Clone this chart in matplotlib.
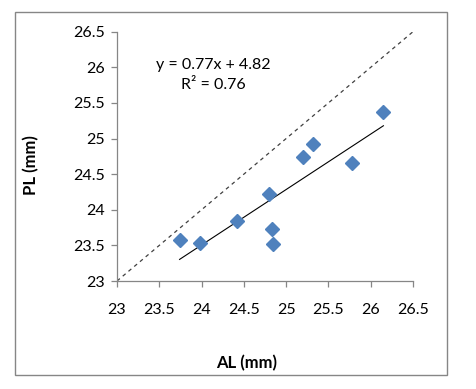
import numpy as np
import matplotlib.pyplot as plt
from matplotlib.patches import Rectangle

# valores
al = [23.74, 23.98, 24.42, 24.80, 24.83, 24.84, 25.20, 25.32, 25.78, 26.15]
pl = [23.57, 23.53, 23.84, 24.22, 23.73, 23.52, 24.74, 24.93, 24.66, 25.37]
ticks = [23, 23.5, 24, 24.5, 25, 25.5, 26, 26.5]
eq_text = "y = 0.77x + 4.82\nR² = 0.76"

plt.rcParams['font.family'] = ['Lato', 'DejaVu Sans']

fig = plt.figure(figsize=(4.76, 3.89), dpi=100)
ax = fig.add_axes([117 / 476, 1 - 281 / 389, 296 / 476, 249.3 / 389])

# moldura externa
fig.patches.append(Rectangle((15 / 476, 1 - 375 / 389), 432 / 476, 363 / 389,
                             transform=fig.transFigure, fill=False,
                             edgecolor='#868686', lw=1))

# linha 1:1
ax.plot([23, 26.5], [23, 26.5], color='#404040', lw=0.9, ls=(0, (3, 3)))

# tendência
a, b = np.polyfit(al, pl, 1)
xs = np.array([min(al), max(al)])
ax.plot(xs, a * xs + b, color='black', lw=0.8)

ax.plot(al, pl, ls='none', marker='D', markersize=7, color='#4F81BD',
        markeredgecolor='#4F81BD', zorder=3)

ax.text(0.325, 0.825, eq_text, transform=ax.transAxes, ha='center', va='center',
        fontsize=11.5, linespacing=1.55)

ax.set_xlim(23, 26.5)
ax.set_ylim(23, 26.5)
ax.set_xticks(ticks)
ax.set_yticks(ticks)
ax.set_xticklabels([f"{t:g}" for t in ticks])
ax.set_yticklabels([f"{t:g}" for t in ticks])

for s in ['top', 'right']:
    ax.spines[s].set_visible(False)
for s in ['left', 'bottom']:
    ax.spines[s].set_color('#868686')
    ax.spines[s].set_linewidth(0.9)
ax.tick_params(axis='both', colors='#868686', labelcolor='black',
               labelsize=11.5, length=4, width=0.9)
ax.tick_params(axis='x', pad=12)
ax.tick_params(axis='y', pad=5)

fig.text(247 / 476, 1 - 363 / 389, "AL (mm)", ha='center', va='center',
         fontsize=12, fontweight='bold')
fig.text(31 / 476, 1 - 165 / 389, "PL (mm)", ha='center', va='center',
         fontsize=12, fontweight='bold', rotation=90)

fig.savefig("out.png", dpi=100)
